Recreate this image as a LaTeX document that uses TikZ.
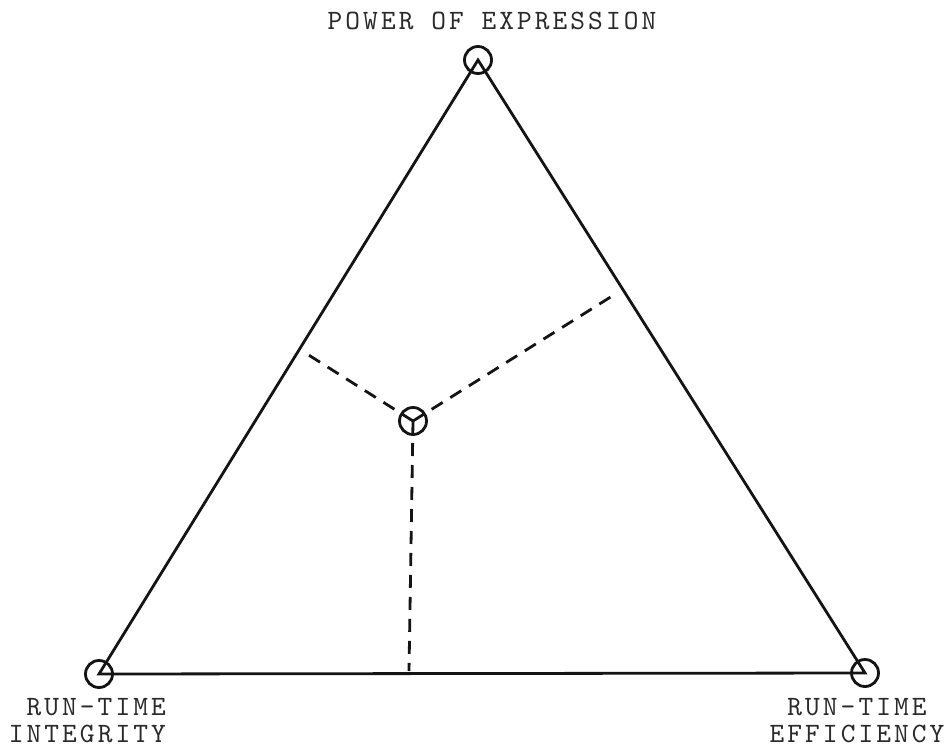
\documentclass[tikz,border=0pt]{standalone}
\usepackage{fontspec}
\newfontfamily\typw{lmmono10-regular.otf}[LetterSpace=11]
\usetikzlibrary{positioning,calc}
\definecolor{inkc}{HTML}{141414}
\definecolor{typec}{HTML}{2A2A2A}
\tikzset{
  side/.style  ={draw=inkc,line width=2.8pt},
  split/.style ={draw=inkc,line width=2.8pt,dash pattern=on 13pt off 9pt},
  ring/.style  ={circle,draw=inkc,line width=2.8pt,minimum size=27pt,inner sep=0pt},
  lbl/.style   ={font=\typw\fontsize{28}{27}\selectfont,text=typec,inner sep=0pt},
}

\begin{document}
\begin{tikzpicture}[x=1pt,y=-1pt]
\useasboundingbox (0,0) rectangle (951,755);

% ============================ corners ==================================
\node[ring] (pe) at (478,60)  {};
\node[ring] (ri) at (99,674)  {};
\node[ring] (re) at (865,673) {};
\draw[side] (pe.center)--(ri.center)--(re.center)--cycle;

% ============================ labels ===================================
\node[lbl] (tpe) at (492,21) {POWER OF EXPRESSION};
\node[lbl,align=right,anchor=north east] (tri) at (166,698) {RUN-TIME\\INTEGRITY};
\node[lbl,align=center,anchor=north] (tre) at (857,698) {RUN-TIME\\EFFICIENCY};

% ============================ the point ================================
\node[ring] (pt) at (413,421) {};
\coordinate (fl) at (307,354);
\coordinate (fr) at (617,293);
\coordinate (fb) at (409,671);
\draw[split] (pt.center)--(fl);
\draw[split] (pt.center)--(fr);
\draw[split] (pt.center)--(fb);
\end{tikzpicture}
\end{document}
